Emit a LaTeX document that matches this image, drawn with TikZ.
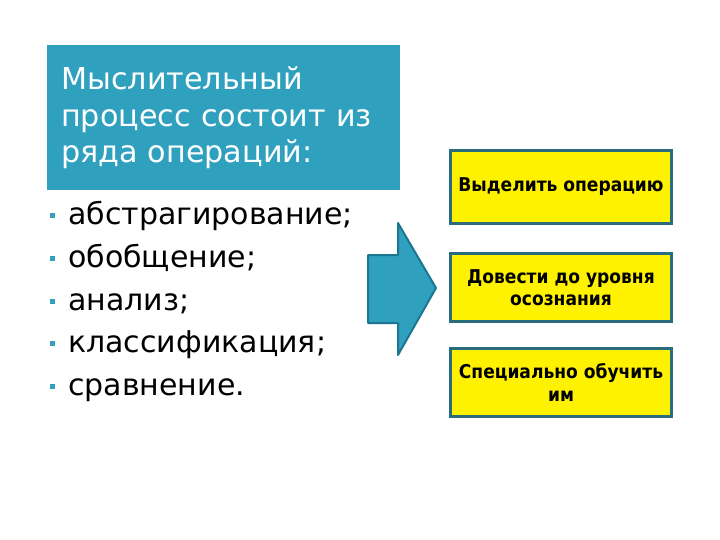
\documentclass[tikz,border=0pt]{standalone}
\usepackage{fontspec}
\setmainfont{DejaVu Sans}
\newfontfamily\boxfont{DejaVu Sans Condensed}
\definecolor{slideblue}{RGB}{47,161,191}
\definecolor{arrowedge}{RGB}{28,118,145}
\definecolor{boxedge}{RGB}{40,108,126}
\tikzset{
  titlebox/.style={fill=slideblue, text=white, anchor=north west, align=left,
    minimum width=353pt, minimum height=145pt, text width=325pt,
    inner xsep=14pt, font=\fontsize{30.2}{36.5}\selectfont},
  item/.style={anchor=base west, inner sep=0pt, font=\fontsize{30}{36}\selectfont},
  dot/.style={fill=slideblue, minimum size=5pt, inner sep=0pt},
  stepbox/.style={fill=yellow, draw=boxedge, line width=3pt, minimum width=221pt,
    align=center, font=\boxfont\fontsize{19}{22.5}\selectfont\bfseries}
}
\begin{document}
\begin{tikzpicture}[x=1pt,y=-1pt]
  \useasboundingbox[fill=white] (0,0) rectangle (720,540);
  \node[titlebox] (title) at (47,45)
    {Мыслительный\\процесс состоит из\\ряда операций:};
  % list of operations
  \foreach \t [count=\i] in {абстрагирование;, обобщение;, анализ;,
      классификация;, сравнение.} {
    \node[item] (op\i) at (68,{182.5+42.5*\i}) {\t};
    \node[dot] (dot\i) at (52,{173.5+42.5*\i}) {};
  }
  % arrow
  \draw[fill=slideblue, draw=arrowedge, line width=2pt, line join=round]
    (368,255) -- (398,255) -- (398,223) -- (436,288) -- (398,355)
    -- (398,323) -- (368,323) -- cycle;
  % boxes
  \node[stepbox, minimum height=73pt] (b1) at (561,187) {Выделить операцию};
  \node[stepbox, minimum height=68pt] (b2) at (561,287.5)
    {Довести до уровня\\осознания};
  \node[stepbox, minimum height=68pt] (b3) at (561,382.5)
    {Специально обучить\\им};
\end{tikzpicture}
\end{document}
